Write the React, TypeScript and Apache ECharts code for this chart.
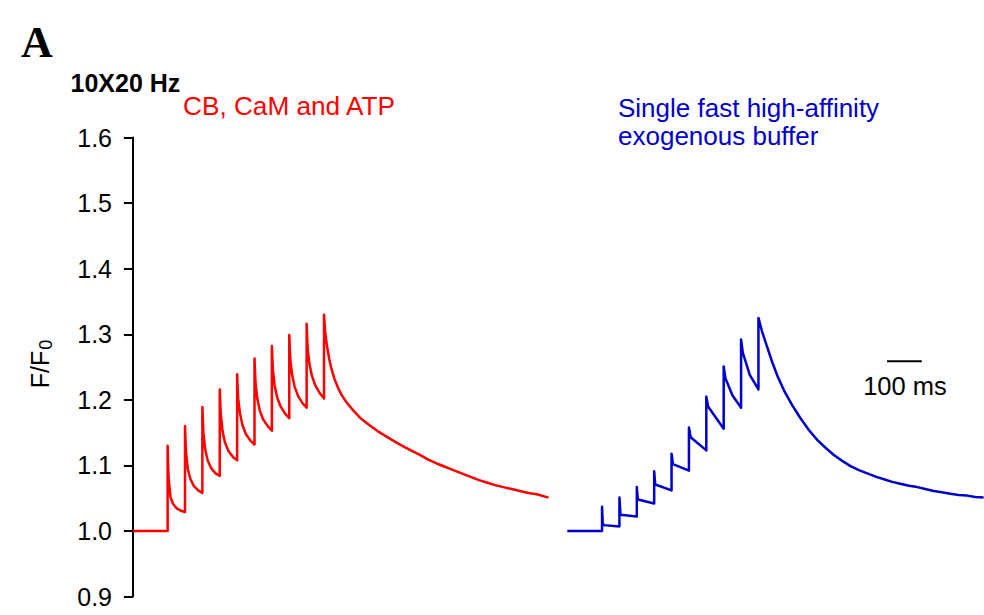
import { useEffect, useRef } from "react";
import * as echarts from "echarts";

// Y-axis tick labels (F/F0)
const TICK_LABELS = ["0.9", "1.0", "1.1", "1.2", "1.3", "1.4", "1.5", "1.6"];

// Red trace: CB, CaM and ATP  — [time (ms), F/F0]
const redTrace: [number, number][] = [
  [0, 1.0], [100, 1.0],
  [100, 1.13], [101.5, 1.1], [103, 1.08], [108, 1.052], [115, 1.042], [125, 1.035], [138, 1.031], [150, 1.029],
  [150, 1.16], [151.5, 1.138], [153, 1.12], [158, 1.095], [165, 1.08], [175, 1.069], [188, 1.062], [200, 1.058],
  [200, 1.189], [201.5, 1.168], [203, 1.15], [208, 1.125], [215, 1.108], [225, 1.096], [238, 1.088], [250, 1.084],
  [250, 1.216], [251.5, 1.195], [253, 1.178], [258, 1.152], [265, 1.135], [275, 1.122], [288, 1.113], [300, 1.108],
  [300, 1.239], [301.5, 1.219], [303, 1.202], [308, 1.18], [315, 1.162], [325, 1.148], [338, 1.138], [350, 1.132],
  [350, 1.263], [351.5, 1.243], [353, 1.225], [358, 1.202], [365, 1.184], [375, 1.17], [388, 1.16], [400, 1.153],
  [400, 1.282], [401.5, 1.262], [403, 1.245], [408, 1.222], [415, 1.204], [425, 1.19], [438, 1.179], [450, 1.172],
  [450, 1.299], [451.5, 1.279], [453, 1.262], [458, 1.239], [465, 1.221], [475, 1.206], [488, 1.195], [500, 1.188],
  [500, 1.316], [501.5, 1.296], [503, 1.278], [508, 1.255], [515, 1.237], [525, 1.222], [538, 1.21], [550, 1.202],
  [550, 1.33], [553, 1.305], [558, 1.284], [565, 1.262], [572, 1.246], [580, 1.232], [590, 1.219],
  [600, 1.208], [615, 1.196], [634, 1.184], [655, 1.172], [682, 1.161], [705, 1.152], [730, 1.144],
  [755, 1.136], [778, 1.129], [800, 1.123], [826, 1.116], [850, 1.109], [874, 1.103], [898, 1.098],
  [922, 1.093], [946, 1.088], [970, 1.083], [994, 1.078], [1018, 1.074], [1042, 1.07], [1066, 1.067],
  [1090, 1.064], [1114, 1.061], [1138, 1.058], [1162, 1.056], [1196, 1.051],
];

// Blue trace: single fast high-affinity exogenous buffer — [time (ms), F/F0]
const blueTrace: [number, number][] = [
  [0, 1.0], [100, 1.0],
  [100, 1.037], [102, 1.012], [105, 1.009], [150, 1.007],
  [150, 1.051], [153, 1.025], [200, 1.022],
  [200, 1.067], [203, 1.048], [250, 1.042],
  [250, 1.091], [253, 1.071], [300, 1.062],
  [300, 1.118], [304, 1.102], [350, 1.092],
  [350, 1.158], [355, 1.143], [400, 1.123],
  [400, 1.205], [405, 1.19], [450, 1.156],
  [450, 1.251], [455, 1.233], [475, 1.207], [500, 1.188],
  [500, 1.292], [505, 1.272], [525, 1.238], [550, 1.216],
  [550, 1.325], [560, 1.305], [575, 1.281], [590, 1.257], [605, 1.236], [623, 1.215],
  [647, 1.192], [671, 1.172], [695, 1.154], [719, 1.139], [743, 1.127], [767, 1.116],
  [791, 1.107], [815, 1.099], [839, 1.093], [863, 1.088], [887, 1.083], [911, 1.079],
  [935, 1.075], [958, 1.072], [983, 1.069], [1007, 1.067], [1030, 1.064], [1054, 1.061],
  [1078, 1.059], [1102, 1.057], [1126, 1.055], [1150, 1.054], [1174, 1.052], [1198, 1.051],
];

// Blue trace is displayed after the red one on the same time axis
const BLUE_OFFSET_MS = 1250;

// 100 ms scale bar
const scaleBarT = [2170, 2270];
const scaleBarF = 1.259;

const RED = "#ff0000";
const BLUE = "#0000cc";
const FONT = '"Liberation Sans", Arial, Helvetica, sans-serif';

export default function App() {
  const ref = useRef<HTMLDivElement>(null);

  useEffect(() => {
    if (!ref.current) return;
    const chart = echarts.init(ref.current, undefined, { renderer: "svg" });
    const yMin = parseFloat(TICK_LABELS[0]);
    const yMax = parseFloat(TICK_LABELS[TICK_LABELS.length - 1]);

    chart.setOption({
      animation: false,
      backgroundColor: "#ffffff",
      grid: { left: 128, right: 0, top: 137.6, bottom: 18.4 },
      xAxis: {
        type: "value",
        min: -14,
        max: 2449,
        show: false,
      },
      yAxis: {
        type: "value",
        min: yMin,
        max: yMax,
        interval: 0.1,
        axisLine: { show: true, lineStyle: { color: "#000", width: 2 } },
        axisTick: { show: true, length: 9, lineStyle: { color: "#000", width: 2 } },
        splitLine: { show: false },
        axisLabel: {
          color: "#000",
          fontSize: 25,
          fontFamily: FONT,
          margin: 16,
          formatter: (v: number) => v.toFixed(1),
        },
      },
      series: [
        {
          type: "line",
          name: "CB, CaM and ATP",
          data: redTrace,
          showSymbol: false,
          lineStyle: { color: RED, width: 2.5, join: "round" },
          itemStyle: { color: RED },
        },
        {
          type: "line",
          name: "Single fast high-affinity exogenous buffer",
          data: blueTrace.map(([t, f]) => [t + BLUE_OFFSET_MS, f]),
          showSymbol: false,
          lineStyle: { color: BLUE, width: 2.5, join: "round" },
          itemStyle: { color: BLUE },
        },
        {
          type: "line",
          name: "scale",
          data: scaleBarT.map((t) => [t, scaleBarF]),
          showSymbol: false,
          lineStyle: { color: "#000", width: 2 },
          itemStyle: { color: "#000" },
        },
      ],
      graphic: [
        {
          type: "text",
          left: 21,
          top: 20,
          style: {
            text: "A",
            font: 'bold 44px "Liberation Serif", "Times New Roman", serif',
            fill: "#000",
          },
        },
        {
          type: "text",
          x: 70.5,
          y: 83,
          style: {
            text: "10X20 Hz",
            font: `bold 25px ${FONT}`,
            fill: "#000",
            align: "left",
            verticalAlign: "middle",
          },
        },
        {
          type: "text",
          x: 183,
          y: 106,
          style: {
            text: "CB, CaM and ATP",
            font: `26.2px ${FONT}`,
            fill: RED,
            align: "left",
            verticalAlign: "middle",
          },
        },
        {
          type: "text",
          x: 618,
          y: 107.5,
          style: {
            text: "Single fast high-affinity",
            font: `26px ${FONT}`,
            fill: BLUE,
            align: "left",
            verticalAlign: "middle",
          },
        },
        {
          type: "text",
          x: 618,
          y: 136,
          style: {
            text: "exogenous buffer",
            font: `26px ${FONT}`,
            fill: BLUE,
            align: "left",
            verticalAlign: "middle",
          },
        },
        {
          type: "text",
          x: 905,
          y: 386,
          style: {
            text: "100 ms",
            font: `25.5px ${FONT}`,
            fill: "#000",
            align: "center",
            verticalAlign: "middle",
          },
        },
        {
          type: "text",
          x: 40,
          y: 364,
          rotation: Math.PI / 2,
          style: {
            text: "{a|F/F}{b|0}",
            align: "center",
            verticalAlign: "middle",
            fill: "#000",
            rich: {
              a: { fontSize: 25, fontFamily: FONT, fill: "#000", verticalAlign: "middle" },
              b: { fontSize: 18, fontFamily: FONT, fill: "#000", padding: [12, 0, 0, 1] },
            },
          },
        },
      ],
    });

    return () => chart.dispose();
  }, []);

  return (
    <div
      ref={ref}
      style={{ position: "fixed", left: 0, top: 0, width: 984, height: 615 }}
    />
  );
}
